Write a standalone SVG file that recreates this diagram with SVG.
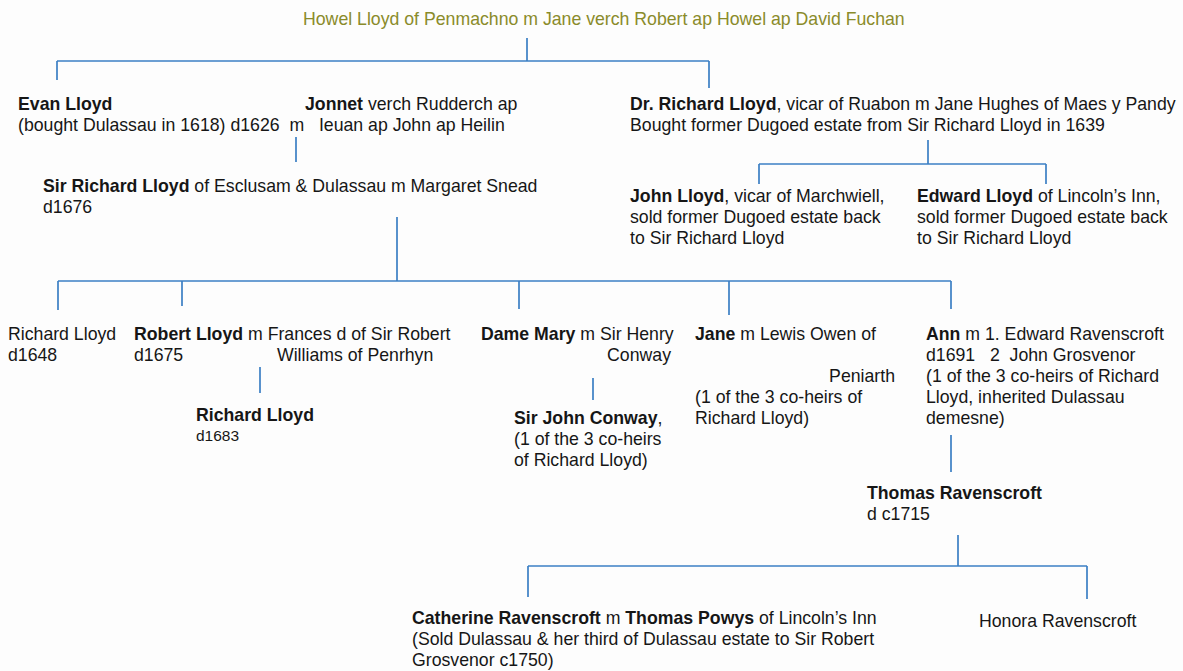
<svg xmlns="http://www.w3.org/2000/svg" width="1183" height="671" viewBox="0 0 1183 671">
<style>
text{font-family:"Liberation Sans",Arial,sans-serif;font-size:17.7px;fill:#161616}
.t{fill:#8a8b2a}
.b{font-weight:bold}
.s{font-size:15.5px}
.c line{stroke:#3b7fc4;stroke-width:1.7}
</style>
<rect width="1183" height="671" fill="#fdfdfd"/>
<g class="c" id="connectors">
<line x1="527" y1="38" x2="527" y2="61"/>
<line x1="57" y1="61" x2="709" y2="61"/>
<line x1="57" y1="61" x2="57" y2="80"/>
<line x1="709" y1="61" x2="709" y2="88"/>
<line x1="296" y1="137" x2="296" y2="162"/>
<line x1="397" y1="217" x2="397" y2="281"/>
<line x1="58" y1="281" x2="951" y2="281"/>
<line x1="58" y1="281" x2="58" y2="310"/>
<line x1="182" y1="281" x2="182" y2="306"/>
<line x1="519" y1="281" x2="519" y2="309"/>
<line x1="729" y1="281" x2="729" y2="315"/>
<line x1="951" y1="281" x2="951" y2="309"/>
<line x1="928" y1="140" x2="928" y2="164"/>
<line x1="759" y1="164" x2="1046" y2="164"/>
<line x1="759" y1="164" x2="759" y2="184"/>
<line x1="1046" y1="164" x2="1046" y2="184"/>
<line x1="260" y1="367" x2="260" y2="393"/>
<line x1="593" y1="378" x2="593" y2="400"/>
<line x1="951" y1="435" x2="951" y2="472"/>
<line x1="958" y1="535" x2="958" y2="566"/>
<line x1="528" y1="566" x2="1087" y2="566"/>
<line x1="528" y1="566" x2="528" y2="597"/>
<line x1="1087" y1="566" x2="1087" y2="599"/>
</g>
<g id="howel"><text class="t" x="303" y="25">Howel Lloyd of Penmachno m Jane verch Robert ap Howel ap David Fuchan</text></g>
<g id="evan">
<text x="18" y="110"><tspan class="b">Evan Lloyd</tspan></text>
<text x="18" y="131" xml:space="preserve">(bought Dulassau in 1618) d1626  m   Ieuan ap John ap Heilin</text>
<text x="305" y="110"><tspan class="b">Jonnet</tspan> verch Rudderch ap</text>
</g>
<g id="drrichard">
<text x="630" y="110"><tspan class="b">Dr. Richard Lloyd</tspan>, vicar of Ruabon m Jane Hughes of Maes y Pandy</text>
<text x="630" y="131">Bought former Dugoed estate from Sir Richard Lloyd in 1639</text>
</g>
<g id="sirrichard">
<text x="43" y="192"><tspan class="b">Sir Richard Lloyd</tspan> of Esclusam &amp; Dulassau m Margaret Snead</text>
<text x="43" y="213">d1676</text>
</g>
<g id="john">
<text x="630" y="202"><tspan class="b">John Lloyd</tspan>, vicar of Marchwiell,</text>
<text x="630" y="223">sold former Dugoed estate back</text>
<text x="630" y="244">to Sir Richard Lloyd</text>
</g>
<g id="edward">
<text x="917" y="202"><tspan class="b">Edward Lloyd</tspan> of Lincoln’s Inn,</text>
<text x="917" y="223">sold former Dugoed estate back</text>
<text x="917" y="244">to Sir Richard Lloyd</text>
</g>
<g id="richard1648">
<text x="8" y="340">Richard Lloyd</text>
<text x="8" y="361">d1648</text>
</g>
<g id="robert">
<text x="134" y="340"><tspan class="b">Robert Lloyd</tspan> m Frances d of Sir Robert</text>
<text x="134" y="361">d1675</text>
<text x="277" y="361">Williams of Penrhyn</text>
</g>
<g id="richard1683">
<text x="196" y="421" class="b">Richard Lloyd</text>
<text x="196" y="441" class="s">d1683</text>
</g>
<g id="mary">
<text x="481" y="340"><tspan class="b">Dame Mary</tspan> m Sir Henry</text>
<text x="671" y="361" text-anchor="end">Conway</text>
</g>
<g id="conway">
<text x="514" y="424"><tspan class="b">Sir John Conway</tspan>,</text>
<text x="514" y="445">(1 of the 3 co-heirs</text>
<text x="514" y="466">of Richard Lloyd)</text>
</g>
<g id="jane">
<text x="695" y="340"><tspan class="b">Jane</tspan> m Lewis Owen of</text>
<text x="895" y="382" text-anchor="end">Peniarth</text>
<text x="695" y="403">(1 of the 3 co-heirs of</text>
<text x="695" y="424">Richard Lloyd)</text>
</g>
<g id="ann">
<text x="926" y="340"><tspan class="b">Ann</tspan> m 1. Edward Ravenscroft</text>
<text x="926" y="361" xml:space="preserve">d1691   2  John Grosvenor</text>
<text x="926" y="382">(1 of the 3 co-heirs of Richard</text>
<text x="926" y="403">Lloyd, inherited Dulassau</text>
<text x="926" y="424">demesne)</text>
</g>
<g id="thomas">
<text x="867" y="499" class="b">Thomas Ravenscroft</text>
<text x="867" y="520">d c1715</text>
</g>
<g id="catherine">
<text x="412" y="624"><tspan class="b">Catherine Ravenscroft</tspan> m <tspan class="b">Thomas Powys</tspan> of Lincoln’s Inn</text>
<text x="412" y="645">(Sold Dulassau &amp; her third of Dulassau estate to Sir Robert</text>
<text x="412" y="666">Grosvenor c1750)</text>
</g>
<g id="honora"><text x="979" y="627">Honora Ravenscroft</text></g>
</svg>
